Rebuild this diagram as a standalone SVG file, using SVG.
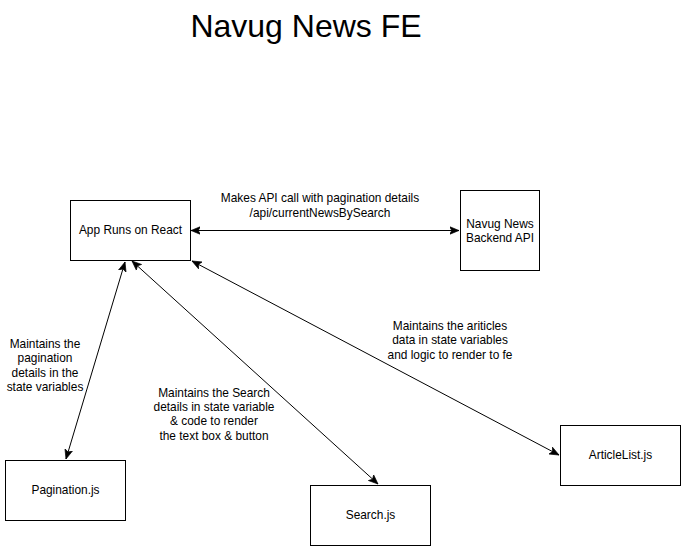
<svg xmlns="http://www.w3.org/2000/svg" width="681" height="546" viewBox="0 0 681 546">
<defs>
<style>
.box{fill:#ffffff;stroke:#000000;stroke-width:1}
.t{font-family:"Liberation Sans",Arial,Helvetica,sans-serif;font-size:11.9px;fill:#000000;text-anchor:middle}
.title{font-family:"Liberation Sans",Arial,Helvetica,sans-serif;font-size:32px;fill:#000000;text-anchor:middle}
.edge{stroke:#000000;stroke-width:1;fill:none;marker-start:url(#arr);marker-end:url(#arr)}
</style>
<marker id="arr" markerUnits="userSpaceOnUse" markerWidth="10" markerHeight="10" viewBox="0 0 9 8" refX="8.5" refY="4" orient="auto-start-reverse">
<path d="M0,0.5 L8.5,4 L0,7.5 L2,4 Z" fill="#000000" stroke="#000000" stroke-width="0.6"/>
</marker>
</defs>
<rect width="681" height="546" fill="#ffffff"/>
<text class="title" x="306" y="37">Navug News FE</text>
<g id="connectors">
<line class="edge" x1="191" y1="230.5" x2="459" y2="230.5"/>
<line class="edge" x1="125" y1="262" x2="66" y2="459"/>
<line class="edge" x1="132" y1="261" x2="378" y2="484"/>
<line class="edge" x1="192" y1="261" x2="559" y2="455"/>
</g>
<g id="edge-labels">
<text class="t" x="320" y="202">Makes API call with pagination details</text>
<text class="t" x="320" y="217">/api/currentNewsBySearch</text>
<text class="t" x="45" y="348">Maintains the</text>
<text class="t" x="45" y="362">pagination</text>
<text class="t" x="45" y="377">details in the</text>
<text class="t" x="45" y="391">state variables</text>
<text class="t" x="214" y="397">Maintains the Search</text>
<text class="t" x="214" y="411">details in state variable</text>
<text class="t" x="214" y="425">&amp; code to render</text>
<text class="t" x="214" y="440">the text box &amp; button</text>
<text class="t" x="450" y="330">Maintains the ariticles</text>
<text class="t" x="450" y="344">data in state variables</text>
<text class="t" x="450" y="359">and logic to render to fe</text>
</g>
<g id="app">
<rect class="box" x="70.5" y="200.5" width="120" height="60"/>
<text class="t" x="130.5" y="234">App Runs on React</text>
</g>
<g id="backend">
<rect class="box" x="460.5" y="190.5" width="79" height="80"/>
<text class="t" x="500" y="228">Navug News</text>
<text class="t" x="500" y="242">Backend API</text>
</g>
<g id="pagination">
<rect class="box" x="5.5" y="460.5" width="120" height="60"/>
<text class="t" x="65.5" y="494">Pagination.js</text>
</g>
<g id="search">
<rect class="box" x="310.5" y="485.5" width="120" height="60"/>
<text class="t" x="370.5" y="519">Search.js</text>
</g>
<g id="articlelist">
<rect class="box" x="560.5" y="425.5" width="120" height="60"/>
<text class="t" x="620.5" y="459">ArticleList.js</text>
</g>
</svg>
